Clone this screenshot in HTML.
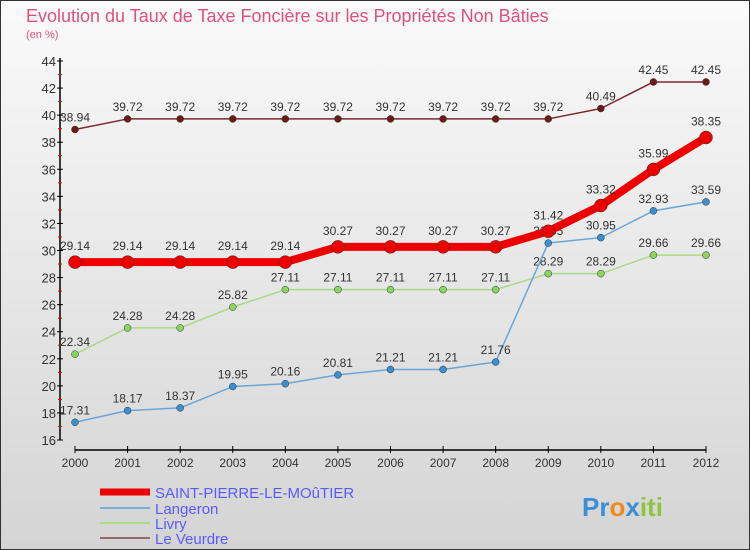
<!DOCTYPE html>
<html><head><meta charset="utf-8"><style>
body{margin:0}
#c{width:750px;height:550px;position:relative;overflow:hidden;font-family:"Liberation Sans",sans-serif}
</style></head><body>
<div id="c">
<svg id="s" width="750" height="550" xmlns="http://www.w3.org/2000/svg">
<defs><linearGradient id="bg" x1="0" y1="0" x2="0" y2="1"><stop offset="0" stop-color="#fafafa"/><stop offset="1" stop-color="#d4d4d4"/></linearGradient></defs>
<rect x="0.5" y="0.5" width="749" height="549" fill="url(#bg)" stroke="#333"/>
<text x="26" y="22" font-size="18" fill="#e0507a">Evolution du Taux de Taxe Foncière sur les Propriétés Non Bâties</text>
<text x="26" y="38" font-size="11" fill="#e0507a">(en %)</text>
<g id="axes"></g><g id="series"></g>
<g>
<line x1="100" y1="492" x2="150" y2="492" stroke="#ee0000" stroke-width="7"/>
<text x="155" y="498" font-size="15" fill="#5a5aff">SAINT-PIERRE-LE-MOûTIER</text>
<line x1="100" y1="508" x2="150" y2="508" stroke="#7aaee0" stroke-width="2"/>
<text x="155" y="514" font-size="15" fill="#5a5aff">Langeron</text>
<line x1="100" y1="523" x2="150" y2="523" stroke="#a8db88" stroke-width="2"/>
<text x="155" y="529" font-size="15" fill="#5a5aff">Livry</text>
<line x1="100" y1="538" x2="150" y2="538" stroke="#9a6a6a" stroke-width="2"/>
<text x="155" y="544" font-size="15" fill="#5a5aff">Le Veurdre</text>
</g>
<g font-size="26" font-weight="bold">
<text x="582" y="516"><tspan fill="#3a8fd8">Pr</tspan><tspan fill="#f08a1c">o</tspan><tspan fill="#3a8fd8">x</tspan><tspan fill="#8cc43c">iti</tspan></text>
</g>
</svg></div>
<script>
const years=[2000,2001,2002,2003,2004,2005,2006,2007,2008,2009,2010,2011,2012];
const yTicks=[16,18,20,22,24,26,28,30,32,34,36,38,40,42,44];
const saintPierre=[29.14,29.14,29.14,29.14,29.14,30.27,30.27,30.27,30.27,31.42,33.32,35.99,38.35];
const langeron=[17.31,18.17,18.37,19.95,20.16,20.81,21.21,21.21,21.76,30.55,30.95,32.93,33.59];
const livry=[22.34,24.28,24.28,25.82,27.11,27.11,27.11,27.11,27.11,28.29,28.29,29.66,29.66];
const leVeurdre=[38.94,39.72,39.72,39.72,39.72,39.72,39.72,39.72,39.72,39.72,40.49,42.45,42.45];
const NS="http://www.w3.org/2000/svg";
const x=i=>75+i*(706-75)/(years.length-1);
const y=v=>440-(v-16)*(440-61)/28;
function mk(t,a,p){const e=document.createElementNS(NS,t);for(const k in a)e.setAttribute(k,a[k]);p.appendChild(e);return e;}
const ax=document.getElementById('axes');
let e=mk('line',{x1:60,y1:58,x2:60,y2:440,stroke:'#000','stroke-width':1.5},ax);


e=mk('line',{x1:75,y1:450,x2:706,y2:450,stroke:'#000','stroke-width':1.5},ax);


yTicks.forEach(v=>{
 mk('line',{x1:57,y1:y(v),x2:63,y2:y(v),stroke:'#000'},ax);
 if(v<44) mk('line',{x1:58,y1:y(v+1),x2:62,y2:y(v+1),stroke:'#e00'},ax);
 const t=mk('text',{x:56,y:y(v)+5,'text-anchor':'end','font-size':13,fill:'#333'},ax);t.textContent=v;
 
 
});
years.forEach((yr,i)=>{
 mk('line',{x1:x(i),y1:446,x2:x(i),y2:453,stroke:'#000'},ax);
 const t=mk('text',{x:x(i),y:467,'text-anchor':'middle','font-size':12,fill:'#333'},ax);t.textContent=yr;
 
 
});
const sg=document.getElementById('series');
function series(d,col,dot,w,r,name,lblOff){
 const g=mk('g',{},sg);
 
 
 const l=mk('polyline',{points:d.map((v,i)=>x(i)+','+y(v)).join(' '),fill:'none',stroke:col,'stroke-width':w,'stroke-linejoin':'round'},g);
 
 
 d.forEach((v,i)=>{
  const c=mk('circle',{cx:x(i),cy:y(v),r:r,fill:dot,stroke:'#333','stroke-width':0.5},g);
  
  
  const t=mk('text',{x:x(i),y:y(v)+lblOff,'text-anchor':'middle','font-size':12,fill:'#333'},g);
  t.textContent=v.toFixed(2).replace(/0$/,'').replace(/\.$/,'');
  
  
 });
}
series(leVeurdre,'#7a2a2a','#6a1a1a',1.5,3.5,'le-veurdre',-8);
series(livry,'#a8db88','#8cd460',1.5,3.5,'livry',-8);
series(langeron,'#6aa6d8','#3a8fd0',1.5,3.5,'langeron',-8);
series(saintPierre,'#ee0000','#ee0000',8,6.5,'saint-pierre',-12);
</script>
</body></html>
